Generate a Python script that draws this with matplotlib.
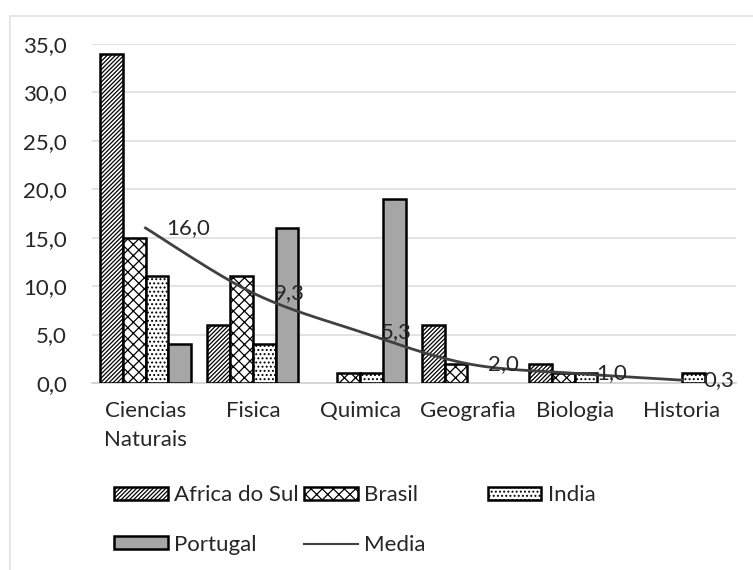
import numpy as np
import matplotlib
matplotlib.use('Agg')
import matplotlib.pyplot as plt
import matplotlib.patches as patches
from matplotlib.lines import Line2D

# Dados
categorias = ['Ciencias\nNaturais', 'Fisica', 'Quimica', 'Geografia', 'Biologia', 'Historia']
africa_do_sul = [34, 6, 0, 6, 2, 0]
brasil = [15, 11, 1, 2, 1, 0]
india = [11, 4, 1, 0, 1, 1]
portugal = [4, 16, 19, 0, 0, 0]
media = [16.0, 9.3, 5.3, 2.0, 1.0, 0.3]
media_labels = ['16,0', '9,3', '5,3', '2,0', '1,0', '0,3']
y_ticks = [0, 5, 10, 15, 20, 25, 30, 35]

plt.rcParams['font.family'] = ['Lato', 'DejaVu Sans']
plt.rcParams['hatch.linewidth'] = 0.9
FS = 16
TXT = '#262626'

fig = plt.figure(figsize=(7.53, 5.70), dpi=100)
ax = fig.add_axes([0.122, 0.328, 0.855, 0.595])

# Moldura clara do grafico
fig.patches.append(patches.Rectangle((0.0133, -0.1), 1.2, 1.072, transform=fig.transFigure,
                                     fill=False, edgecolor='#dde3ea', linewidth=1.2))

x = np.arange(len(categorias))
w = 0.212
series = [
    (africa_do_sul, 'Africa do Sul', 'white', '/' * 8),
    (brasil, 'Brasil', 'white', 'xxx'),
    (india, 'India', 'white', '....'),
    (portugal, 'Portugal', '#a6a6a6', None),
]
handles = {}
for k, (vals, nome, cor, hatch) in enumerate(series):
    pos = x + (k - 1.5) * w
    lws = [1.8 if v > 0 else 0 for v in vals]
    ax.bar(pos, vals, width=w, color=cor, edgecolor='black', linewidth=lws,
           hatch=hatch, label=nome, zorder=3)
    handles[nome] = patches.Patch(facecolor=cor, edgecolor='black', linewidth=1.8, hatch=hatch)

# Linha suavizada da media (Catmull-Rom em espaco de pixels aproximado)
sx, sy = 107.3, 9.69
P = np.column_stack([x * sx, np.array(media) * sy])
curve = []
for i in range(len(P) - 1):
    p0 = P[i - 1] if i > 0 else P[i]
    p1, p2 = P[i], P[i + 1]
    p3 = P[i + 2] if i + 2 < len(P) else P[i + 1]
    c1 = p1 + (p2 - p0) / 6
    c2 = p2 - (p3 - p1) / 6
    t = np.linspace(0, 1, 30)[:, None]
    seg = (1 - t) ** 3 * p1 + 3 * (1 - t) ** 2 * t * c1 + 3 * (1 - t) * t ** 2 * c2 + t ** 3 * p2
    curve.append(seg)
curve = np.vstack(curve)
ax.plot(curve[:, 0] / sx, curve[:, 1] / sy, color='#404040', linewidth=2, zorder=4)
for xi, yi, lab in zip(x, media, media_labels):
    ax.annotate(lab, (xi, yi), xytext=(21, 0), textcoords='offset pixels',
                ha='left', va='center', fontsize=FS, color=TXT, zorder=5)

ax.set_xlim(-0.5, len(categorias) - 0.5)
ax.set_ylim(0, 35)
ax.set_yticks(y_ticks)
ax.set_yticklabels([f'{v:.1f}'.replace('.', ',') for v in y_ticks])
ax.set_xticks(x)
ax.set_xticklabels(categorias, linespacing=1.55)
ax.tick_params(axis='both', length=0, labelsize=FS, labelcolor=TXT)
ax.tick_params(axis='y', pad=18)
ax.tick_params(axis='x', pad=13)
ax.grid(axis='y', color='#dde1e8', linewidth=1.3, zorder=0)
for s in ['top', 'right', 'left']:
    ax.spines[s].set_visible(False)
ax.spines['bottom'].set_color('#d0d4da')
ax.spines['bottom'].set_linewidth(1.3)

media_handle = Line2D([], [], color='#404040', linewidth=1.5)

# Legenda em colunas fixas
colunas = [
    (0.152, [handles['Africa do Sul'], handles['Portugal']], ['Africa do Sul', 'Portugal']),
    (0.404, [handles['Brasil'], media_handle], ['Brasil', 'Media']),
    (0.648, [handles['India']], ['India']),
]
for xa, hs, ls in colunas:
    fig.legend(hs, ls, loc='upper left', bbox_to_anchor=(xa, 0.149), frameon=False,
               fontsize=FS, handlelength=2.4, handleheight=0.5, handletextpad=0.3,
               labelspacing=1.33, borderpad=0, borderaxespad=0, labelcolor=TXT)

fig.savefig('out.png', dpi=100)
